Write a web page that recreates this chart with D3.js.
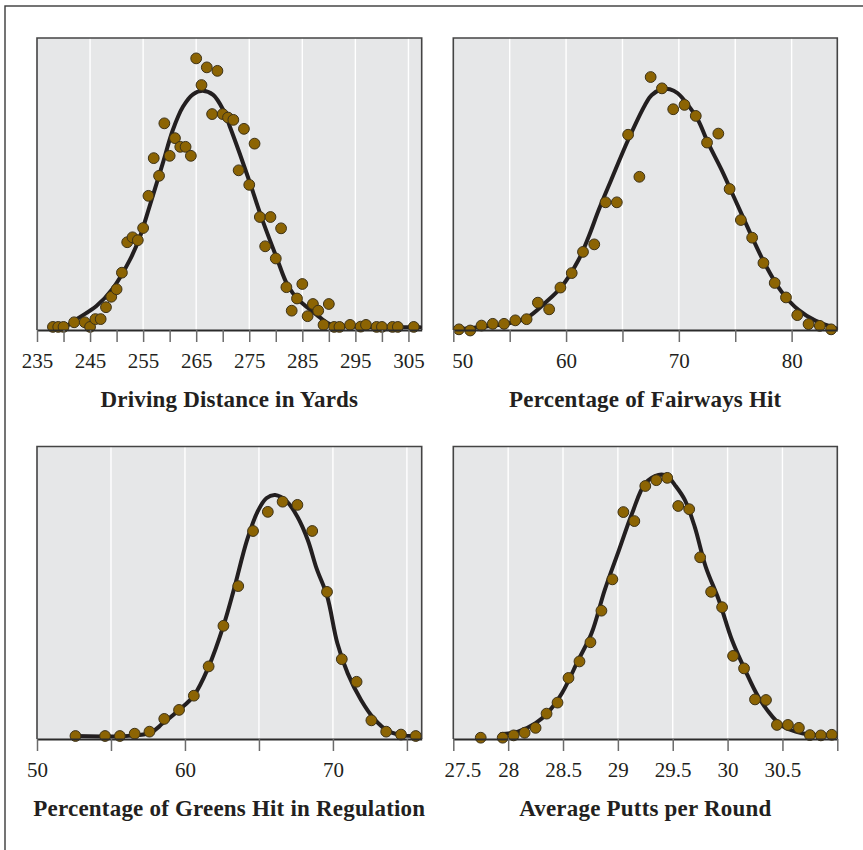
<!DOCTYPE html>
<html>
<head>
<meta charset="utf-8">
<script src="https://cdn.jsdelivr.net/npm/d3@7"></script>
<style>
  body { margin: 0; background: #fff; }
  svg text { font-family: "Liberation Serif", "DejaVu Serif", serif; fill: #231f20; }
</style>
</head>
<body>
<div id="chart"></div>
<script>
// Driving distance (yards) - dots and fitted curve
const distX = [238, 239, 240, 242, 244, 245, 246, 247, 248, 249, 250, 251, 252, 253, 254, 255, 256, 257, 258, 259,
  260, 261, 262, 263, 264, 265, 266, 267, 268, 269, 270, 271, 272, 273, 274, 275, 276, 277, 278, 279,
  280, 281, 282, 283, 284, 285, 286, 287, 288, 289, 290, 291, 292, 294, 296, 297, 299, 300, 302, 303, 306];
const distY = [0.2, 0.2, 0.2, 1.8, 1.8, 0.2, 2.9, 2.9, 7.0, 10.6, 13.2, 18.9, 29.4, 31.1, 30.1, 34.3, 45.4, 58.4, 52.3, 70.4,
  59.2, 65.3, 62.3, 62.3, 59.2, 92.8, 83.6, 89.7, 73.6, 88.5, 73.6, 72.4, 71.6, 54.2, 68.5, 49.2, 63.4, 38.1, 28.0, 38.1,
  23.8, 34.2, 13.9, 5.8, 10.0, 15.0, 3.9, 8.1, 5.8, 0.9, 8.1, 0.2, 0.2, 0.9, 0.3, 0.9, 0.2, 0.2, 0.2, 0.2, 0.2];
const distCurveX = [238, 240.2, 243, 246.2, 249.3, 252.5, 254.4, 256.2, 258.7, 260.6, 262.5, 264.4, 266.2, 268.2,
  270.1, 271.3, 273.2, 275.2, 277.2, 280.2, 282.2, 284.3, 286.4, 288.3, 290.2, 293.3, 307.2];
const distCurveY = [0.1, 0.3, 3.5, 7.4, 13.5, 23.3, 31.3, 41.7, 56.6, 68.1, 76.1, 80.4, 81.6, 80.2,
  75.0, 69.5, 60.0, 49.5, 38.5, 23.9, 14.7, 9.5, 6.3, 3.5, 1.2, 0.4, 0.1];

// Fairways hit (%)
const fairX = [50.5, 51.5, 52.5, 53.5, 54.5, 55.5, 56.5, 57.5, 58.5, 59.5, 60.5, 61.5, 62.5, 63.5, 64.5, 65.5, 66.5,
  67.5, 68.5, 69.5, 70.5, 71.5, 72.5, 73.5, 74.5, 75.5, 76.5, 77.5, 78.5, 79.5, 80.5, 81.5, 82.5, 83.5];
const fairY = [0.4, 0, 1.7, 2.3, 2.3, 3.5, 3.9, 9.6, 7.3, 14.8, 19.8, 27.1, 29.7, 44.2, 44.2, 67.5, 53.0,
  87.4, 83.5, 76.3, 77.8, 74.0, 64.8, 67.9, 48.8, 38.1, 32.0, 23.3, 16.4, 11.4, 5.3, 2.2, 1.6, 0.4];
const fairCurveX = [50.4, 52.2, 55.2, 56.6, 58.1, 59.6, 61.1, 62.0, 62.9, 64.0, 65.5, 67.0, 67.6, 68.5, 69.2, 69.9,
  70.8, 71.7, 72.6, 73.8, 75.0, 76.2, 77.6, 79.1, 80.6, 82.1, 83.9];
const fairCurveY = [0.4, 1.1, 2.7, 4.6, 9.4, 15.1, 24.3, 32.3, 41.6, 51.9, 65.7, 77.8, 81.2, 83.2, 83.2, 81.8,
  77.8, 72.6, 64.6, 55.3, 45.0, 34.7, 23.2, 13.4, 7.1, 3.4, 0.8];

// Greens hit in regulation (%)
const greensX = [52.6, 54.6, 55.6, 56.6, 57.6, 58.6, 59.6, 60.6, 61.6, 62.6, 63.6, 64.6, 65.6, 66.6, 67.6, 68.6,
  69.6, 70.6, 71.6, 72.6, 73.6, 74.6, 75.6];
const greensY = [0.1, 0.1, 0.1, 0.9, 1.6, 6.0, 9.1, 14.0, 24.1, 38.1, 51.8, 70.8, 77.4, 80.9, 79.8, 70.8,
  49.8, 26.6, 18.8, 5.5, 1.6, 0.6, 0.1];
const greensCurveX = [52.6, 57.6, 58.5, 59.6, 60.6, 61.6, 62.6, 63.3, 64.2, 64.9, 65.5, 66.1, 66.9, 67.6, 68.3,
  68.9, 69.6, 70.3, 71.0, 71.9, 72.8, 73.7, 74.6, 75.7];
const greensCurveY = [0.1, 1.1, 4.5, 9.1, 14.0, 24.0, 38.1, 50.5, 67.7, 77.4, 82.1, 83.2, 80.9, 75.7, 67.7,
  57.8, 48.5, 32.1, 21.7, 12.5, 5.9, 1.9, 0.4, 0.1];

// Average putts per round
const puttsX = [27.75, 27.95, 28.05, 28.15, 28.25, 28.35, 28.45, 28.55, 28.65, 28.75, 28.85, 28.95, 29.05, 29.15,
  29.25, 29.35, 29.45, 29.55, 29.65, 29.75, 29.85, 29.95, 30.05, 30.15, 30.25, 30.35, 30.45, 30.55, 30.65,
  30.75, 30.85, 30.95];
const puttsY = [0, 0, 0.8, 1.7, 3.4, 8.3, 12.1, 20.6, 26.3, 32.9, 43.8, 54.6, 77.8, 74.7,
  86.8, 88.8, 89.6, 79.9, 78.8, 62.2, 50.3, 45.0, 28.2, 23.9, 13.2, 13.0, 4.4, 4.4, 3.4,
  0.9, 0.8, 1.0];
const puttsCurveX = [27.94, 28.09, 28.25, 28.37, 28.49, 28.64, 28.76, 28.88, 29.01, 29.13, 29.25, 29.37, 29.45,
  29.52, 29.61, 29.70, 29.80, 29.92, 30.04, 30.16, 30.28, 30.41, 30.50, 30.62, 30.77, 30.98];
const puttsCurveY = [1.3, 2.1, 5.0, 9.0, 15.3, 26.8, 36.0, 50.9, 64.7, 77.4, 87.7, 90.6, 90.2,
  87.1, 82.0, 72.8, 59.0, 47.5, 33.7, 23.3, 14.1, 7.2, 4.0, 2.1, 1.0, 0.7];

// ticks, labels, gridlines
const distTicks = [235, 240, 245, 250, 255, 260, 265, 270, 275, 280, 285, 290, 295, 300, 305];
const distLabels = [235, 245, 255, 265, 275, 285, 295, 305];
const distGrid = [245, 255, 265, 275, 285, 295, 305];
const fairTicks = [50, 55, 60, 65, 70, 75, 80];
const fairLabels = [50, 60, 70, 80];
const fairGrid = [55, 60, 65, 70, 75, 80];
const greensTicks = [50, 55, 60, 65, 70, 75];
const greensLabels = [50, 60, 70];
const greensGrid = [55, 60, 65, 70, 75];
const puttsTicks = [27.5, 28, 28.5, 29, 29.5, 30, 30.5, 31];
const puttsLabels = [27.5, 28, 28.5, 29, 29.5, 30, 30.5];
const puttsGrid = [28, 28.5, 29, 29.5, 30, 30.5];

const titles = ["Driving Distance in Yards", "Percentage of Fairways Hit",
  "Percentage of Greens Hit in Regulation", "Average Putts per Round"];

const W = 863, H = 850;
const svg = d3.select('#chart').append('svg')
  .attr('width', W).attr('height', H);

svg.append('rect').attr('width', W).attr('height', H).attr('fill', '#fff');

// outer frame (left and top edges are visible)
svg.append('rect')
  .attr('x', 5).attr('y', 6).attr('width', 900).attr('height', 900)
  .attr('fill', 'none').attr('stroke', '#3a3a3a').attr('stroke-width', 1.4);

const panels = [
  { px: distX, py: distY, cx: distCurveX, cy: distCurveY, domain: [235, 307.5],
    ticks: distTicks, labels: distLabels, grid: distGrid, title: titles[0],
    left: 37, right: 421.7, top: 38, bottom: 330, zero: 327.5, firstDx: 0 },
  { px: fairX, py: fairY, cx: fairCurveX, cy: fairCurveY, domain: [50, 84.05],
    ticks: fairTicks, labels: fairLabels, grid: fairGrid, title: titles[1],
    left: 453.3, right: 837.3, top: 38, bottom: 330, zero: 330.5, firstDx: 9 },
  { px: greensX, py: greensY, cx: greensCurveX, cy: greensCurveY, domain: [50, 76],
    ticks: greensTicks, labels: greensLabels, grid: greensGrid, title: titles[2],
    left: 37, right: 421.7, top: 446.5, bottom: 739, zero: 736.3, firstDx: 0 },
  { px: puttsX, py: puttsY, cx: puttsCurveX, cy: puttsCurveY, domain: [27.5, 31],
    ticks: puttsTicks, labels: puttsLabels, grid: puttsGrid, title: titles[3],
    left: 453.3, right: 837.3, top: 446.5, bottom: 739, zero: 737.7, firstDx: 9 }
];

panels.forEach(function(p) {
  var x = d3.scaleLinear().domain(p.domain).range([p.left, p.right]);
  var y = d3.scaleLinear().domain([0, 100]).range([p.zero, p.zero - 290]);
  var g = svg.append('g');

  // plot background
  g.append('rect')
    .attr('x', p.left).attr('y', p.top)
    .attr('width', p.right - p.left).attr('height', p.bottom - p.top)
    .attr('fill', '#e6e7e8');

  // white vertical gridlines
  g.selectAll('.grid').data(p.grid).enter().append('line')
    .attr('x1', function(d) { return x(d); }).attr('x2', function(d) { return x(d); })
    .attr('y1', p.top).attr('y2', p.bottom)
    .attr('stroke', '#fff').attr('stroke-width', 1.4);

  // frame
  g.append('path')
    .attr('d', 'M' + p.left + ',' + p.bottom + 'V' + p.top + 'H' + p.right + 'V' + p.bottom)
    .attr('fill', 'none').attr('stroke', '#444').attr('stroke-width', 1.6);

  // x axis
  var axis = d3.axisBottom(x)
    .tickValues(p.ticks)
    .tickSize(12)
    .tickPadding(11)
    .tickSizeOuter(0)
    .tickFormat(function(d) { return p.labels.indexOf(d) >= 0 ? String(d) : ''; });
  var ax = svg.append('g')
    .attr('transform', 'translate(0,' + p.bottom + ')')
    .call(axis);
  ax.select('.domain').attr('stroke', '#2b2b2b').attr('stroke-width', 1.8);
  ax.selectAll('.tick line').attr('stroke', '#6b6b6b').attr('stroke-width', 1.5);
  ax.selectAll('.tick text')
    .style('font-family', '"Liberation Serif", serif')
    .style('font-size', '21px')
    .attr('fill', '#231f20')
    .attr('dx', function(d, i) { return i === 0 ? p.firstDx : 0; });

  // fitted curve
  var curvePts = p.cx.map(function(v, i) { return [v, p.cy[i]]; });
  var line = d3.line()
    .x(function(d) { return x(d[0]); })
    .y(function(d) { return y(d[1]); })
    .curve(d3.curveCatmullRom.alpha(0.5));
  g.append('path')
    .attr('d', line(curvePts))
    .attr('fill', 'none').attr('stroke', '#231f20').attr('stroke-width', 4)
    .attr('stroke-linejoin', 'round').attr('stroke-linecap', 'round');

  // dots
  var dots = p.px.map(function(v, i) { return [v, p.py[i]]; });
  g.selectAll('.dot').data(dots).enter().append('circle')
    .attr('cx', function(d) { return x(d[0]); })
    .attr('cy', function(d) { return y(d[1]); })
    .attr('r', 5.4)
    .attr('fill', '#8c6403')
    .attr('stroke', '#3d3218').attr('stroke-width', 1);

  // title
  svg.append('text')
    .attr('x', (p.left + p.right) / 2)
    .attr('y', p.bottom + 77)
    .attr('text-anchor', 'middle')
    .style('font-size', '23px')
    .style('font-weight', 'bold')
    .style('letter-spacing', '0.2px')
    .text(p.title);
});
</script>
</body>
</html>
